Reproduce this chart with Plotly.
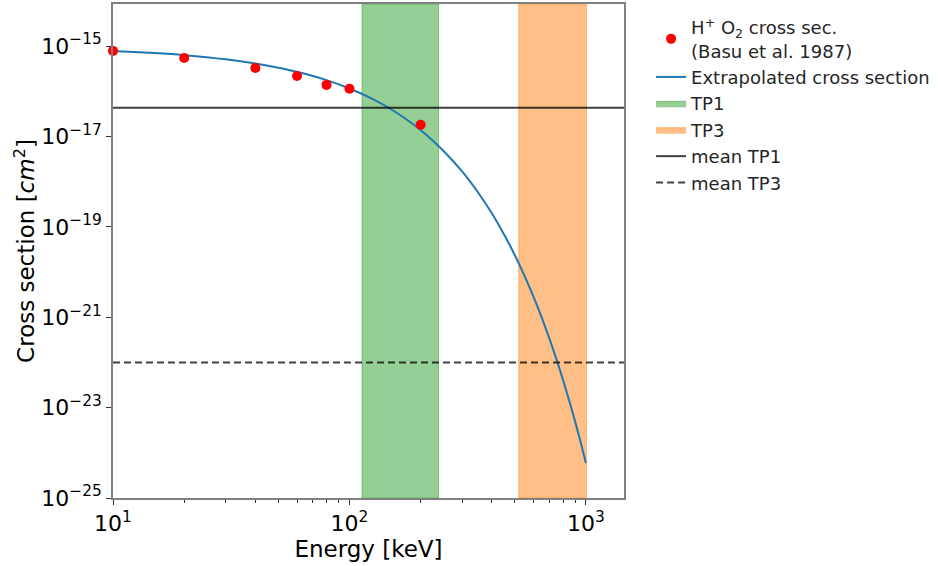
import plotly.graph_objects as go

# Measured H+ on O2 cross sections (Basu et al. 1987)
basu_energy_kev = [10, 20, 40, 60, 80, 100, 200]
basu_sigma_cm2 = [7.8e-16, 5.45e-16, 3.27e-16, 2.18e-16, 1.38e-16, 1.13e-16, 1.82e-17]

# Extrapolated cross section curve
extrap_energy_kev = [10, 15, 20, 30, 40, 50, 60, 80, 100, 125, 150, 175, 200, 250,
                     300, 350, 400, 450, 500, 550, 600, 650, 700, 750, 800, 850, 900, 950, 1000]
extrap_sigma_cm2 = [7.76e-16, 6.98e-16, 6.28e-16, 5.08e-16, 4.11e-16, 3.32e-16, 2.69e-16,
                    1.76e-16, 1.15e-16, 6.77e-17, 3.99e-17, 2.34e-17, 1.38e-17, 4.78e-18,
                    1.66e-18, 5.74e-19, 1.99e-19, 6.88e-20, 2.38e-20, 8.25e-21, 2.86e-21,
                    9.9e-22, 3.43e-22, 1.19e-22, 4.11e-23, 1.42e-23, 4.93e-24, 1.71e-24, 5.92e-25]

# Energy ranges of the two periods and their mean cross sections
tp1_range_kev = [113, 238]
tp3_range_kev = [520, 1005]
mean_tp1_cm2 = 4.3e-17
mean_tp3_cm2 = 1.0e-22

# Axis limits
x_limits = [10, 1449]
y_limits = [1e-25, 10 ** -14.07]

x_tick_vals = [10, 100, 1000]
x_tick_text = ["10<sup>1</sup>", "10<sup>2</sup>", "10<sup>3</sup>"]
x_minor_vals = [20, 30, 40, 50, 60, 70, 80, 90, 200, 300, 400, 500, 600, 700, 800, 900]
y_tick_vals = [1e-25, 1e-23, 1e-21, 1e-19, 1e-17, 1e-15]
y_tick_text = ["10<sup>\u221225</sup>", "10<sup>\u221223</sup>", "10<sup>\u221221</sup>",
               "10<sup>\u221219</sup>", "10<sup>\u221217</sup>", "10<sup>\u221215</sup>"]

FONT = "DejaVu Sans"
fig = go.Figure()


def band(rng, color, name, rank):
    x0, x1 = rng
    return go.Scatter(
        x=[x0, x1, x1, x0, x0],
        y=[y_limits[0], y_limits[0], y_limits[1], y_limits[1], y_limits[0]],
        mode="lines", fill="toself", fillcolor=color,
        line=dict(width=1, color=color), name=name, legendrank=rank,
        hoverinfo="skip",
    )


fig.add_trace(band(tp1_range_kev, "rgba(44,160,44,0.5)", "TP1", 3))
fig.add_trace(band(tp3_range_kev, "rgba(255,127,14,0.5)", "TP3", 4))

fig.add_trace(go.Scatter(
    x=extrap_energy_kev, y=extrap_sigma_cm2, mode="lines",
    line=dict(color="#1f77b4", width=2, shape="spline", smoothing=0.6),
    name="Extrapolated cross section", legendrank=2,
))

fig.add_trace(go.Scatter(
    x=x_limits, y=[mean_tp1_cm2, mean_tp1_cm2], mode="lines",
    line=dict(color="rgba(0,0,0,0.75)", width=2),
    name="mean TP1", legendrank=5,
))
fig.add_trace(go.Scatter(
    x=x_limits, y=[mean_tp3_cm2, mean_tp3_cm2], mode="lines",
    line=dict(color="rgba(0,0,0,0.75)", width=2, dash="7px,4px"),
    name="mean TP3", legendrank=6,
))

fig.add_trace(go.Scatter(
    x=basu_energy_kev, y=basu_sigma_cm2, mode="markers",
    marker=dict(color="#ff0000", size=10),
    name="H<sup>+</sup> O<sub>2</sub> cross sec.<br>(Basu et al. 1987)", legendrank=1,
    cliponaxis=False,
))

axis_common = dict(
    type="log", showgrid=False, zeroline=False, showline=True, mirror=True,
    linecolor="#808080", linewidth=1.5, ticks="outside", ticklen=5, tickwidth=1,
    tickcolor="#333333", tickfont=dict(family=FONT, size=22, color="#000000"),
)

fig.update_xaxes(
    **axis_common,
    range=[1, 3.161],
    tickmode="array", tickvals=x_tick_vals, ticktext=x_tick_text,
    minor=dict(tickmode="array", tickvals=x_minor_vals, ticks="outside",
               ticklen=3, tickwidth=1, tickcolor="#333333"),
    title=dict(text="Energy [keV]", font=dict(family=FONT, size=23, color="#000000"),
               standoff=4),
)
fig.update_yaxes(
    **axis_common,
    range=[-25, -14.07],
    tickmode="array", tickvals=y_tick_vals, ticktext=y_tick_text,
    title=dict(text="Cross section [<i>cm</i><sup>2</sup>]",
               font=dict(family=FONT, size=23, color="#000000"), standoff=0),
)

fig.update_layout(
    width=938, height=566,
    margin=dict(l=113, r=314, t=2, b=68),
    plot_bgcolor="white", paper_bgcolor="white",
    font=dict(family=FONT, color="#000000"),
    showlegend=True,
    legend=dict(
        x=1.053, y=0.99, xanchor="left", yanchor="top",
        font=dict(family=FONT, size=18, color="#262626"),
        bgcolor="rgba(255,255,255,0)", borderwidth=0,
        itemwidth=30, tracegroupgap=0,
    ),
)

fig.write_html("out.html")
